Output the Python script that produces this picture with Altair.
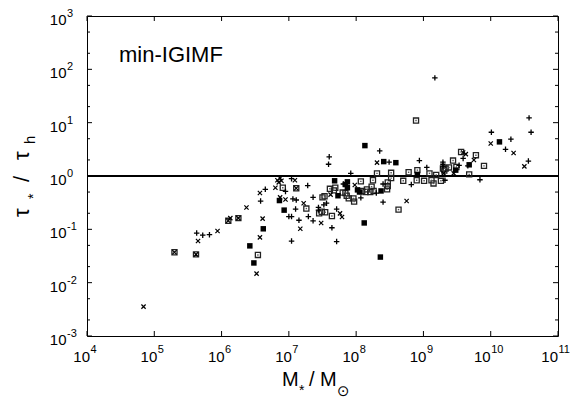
import altair as alt
import pandas as pd

# ---- data (log10 of M*/Msun and log10 of tau*/tau_h) ----
plus_logM = [5.63, 5.72, 5.82, 6.65, 6.58, 7.04, 7.28, 6.95, 7.06, 7.11, 7.36, 7.10, 7.00, 7.04,
             7.15, 7.29, 7.36, 7.04, 7.44, 7.44, 7.52, 7.56, 7.71, 7.64, 7.71, 7.59, 7.60, 7.81,
             7.92, 8.07, 8.30, 8.40, 8.40, 8.35, 8.49, 8.94, 9.05, 8.82, 9.32, 9.17, 9.29, 9.29,
             9.29, 9.53, 9.59, 9.66, 9.84, 10.01, 10.30, 10.22, 10.57, 10.60, 10.56]
plus_logT = [-1.07, -1.11, -1.10, -0.25, -0.47, -0.05, -0.18, -0.29, -0.43, -0.45, -0.40, -0.62, -0.76, -0.76,
             -0.83, -0.76, -0.84, -1.22, -0.59, -0.64, -0.54, -0.51, -0.62, -0.97, -1.23, 0.22, 0.36, -0.15,
             0.05, -0.41, -0.32, -0.15, -0.49, 0.47, 0.26, 0.29, 0.16, -0.16, -0.08, 1.84, 0.26, 0.22,
             0.17, 0.20, 0.33, 0.19, -0.07, 0.82, 0.69, 0.50, 1.09, 0.82, 0.28]

cross_logM = [4.84, 5.30, 5.62, 5.65, 5.94, 6.10, 6.13, 6.25, 6.37, 6.57, 6.61, 6.57, 6.52, 6.80,
              6.83, 6.87, 6.89, 6.85, 7.09, 7.11, 6.87, 6.95, 7.22, 7.17, 7.48, 7.62, 7.76, 7.79,
              7.98, 8.75, 8.31, 9.30, 9.45, 9.59, 9.63, 9.75, 10.00, 10.34, 10.50]
cross_logT = [-2.45, -1.43, -1.47, -1.22, -1.03, -0.84, -0.79, -0.79, -0.59, -0.32, -0.80, -1.15, -1.83, -0.22,
              -0.08, -0.04, -0.09, -0.12, -0.08, -0.23, -0.40, -0.44, -0.51, -0.99, -0.88, -0.35, -0.70, -0.77,
              -0.17, -0.47, 0.25, 0.05, 0.05, 0.44, 0.41, 0.30, 0.61, 0.43, 0.18]

filled_logM = [6.62, 6.42, 6.48, 6.86, 6.93, 7.68, 7.73, 7.87, 7.84, 7.87, 8.02, 8.05, 8.37, 8.12,
               8.36, 8.13, 8.41, 8.59, 8.91, 9.48, 9.68, 10.13]
filled_logT = [-0.99, -1.31, -1.63, -0.46, -0.64, -0.09, -0.37, -0.11, -0.16, -0.22, -0.26, -0.30, -0.28, -0.88,
               -1.52, 0.57, 0.27, 0.25, 0.03, 0.11, 0.21, 0.64]

open_logM = [6.54, 6.91, 7.11, 7.26, 7.45, 7.49, 7.54, 7.50, 7.53, 7.61, 7.64, 7.69, 7.67, 7.80,
             7.84, 7.86, 7.89, 8.09, 8.14, 8.21, 8.16, 8.23, 7.96, 7.97, 8.07, 8.25, 8.47, 8.47,
             8.46, 8.52, 8.63, 8.31, 8.52, 8.78, 8.91, 9.09, 9.19, 8.70, 8.90, 9.01, 9.12, 9.15,
             9.26, 8.89, 9.33, 9.29, 9.31, 9.38, 9.44, 9.49, 9.56, 9.78, 9.68, 9.90, 8.26,
             5.30, 5.62, 6.10, 6.25]
open_logT = [-1.48, -0.22, -0.23, -0.61, -0.70, -0.67, -0.68, -0.40, -0.38, -0.24, -0.75, -0.22, -0.27, -0.31,
             -0.32, -0.37, -0.42, -0.28, -0.30, -0.30, -0.25, -0.20, -0.42, -0.48, -0.10, -0.08, -0.12, -0.19,
             -0.25, -0.04, -0.63, 0.05, 0.06, 0.07, 0.11, 0.05, 0.02, -0.09, -0.08, -0.09, -0.08, -0.14,
             -0.09, 1.04, 0.14, 0.14, 0.10, 0.16, 0.29, 0.17, 0.45, 0.39, 0.03, 0.19, -0.28,
             -1.43, -1.47, -0.84, -0.79]

x_tick_vals = [1e4, 1e5, 1e6, 1e7, 1e8, 1e9, 1e10, 1e11]
x_tick_exps = ["4", "5", "6", "7", "8", "9", "10", "11"]
y_tick_vals = [1e-3, 1e-2, 1e-1, 1e0, 1e1, 1e2, 1e3]
y_tick_exps = ["-3", "-2", "-1", "0", "1", "2", "3"]
y_minor_vals = [m * 10.0 ** e for e in range(-3, 3) for m in (2, 5)]

label_text = "min-IGIMF"
ref_line = [1.0]

# ---- build tables ----
def table(lm, lt):
    return pd.DataFrame({"M": [10 ** a for a in lm], "T": [10 ** b for b in lt]})

df_plus = table(plus_logM, plus_logT)
df_cross = table(cross_logM, cross_logT)
df_filled = table(filled_logM, filled_logT)
df_open = table(open_logM, open_logT)

W, H = 471, 320
FONT = "Liberation Sans"
xs = alt.Scale(type="log", domain=[1e4, 1e11], nice=False)
ys = alt.Scale(type="log", domain=[1e-3, 1e3], nice=False)

def XE(f="M"):
    return alt.X(f"{f}:Q", scale=xs, axis=None)

def YE(f="T"):
    return alt.Y(f"{f}:Q", scale=ys, axis=None)

plus_path = "M-1,0L1,0M0,-1L0,1"
cross_path = "M-1,-1L1,1M-1,1L1,-1"

plus = alt.Chart(df_plus).mark_point(shape=plus_path, filled=False, size=30, color="black",
                                     strokeWidth=1.3, opacity=1).encode(XE(), YE())
cross = alt.Chart(df_cross).mark_point(shape=cross_path, filled=False, size=18, color="black",
                                       strokeWidth=1.2, opacity=1).encode(XE(), YE())
opens = alt.Chart(df_open).mark_point(shape="square", filled=False, size=26, color="#222222",
                                      strokeWidth=1.3, opacity=1).encode(XE(), YE())
open_dots = alt.Chart(df_open).mark_point(shape="square", filled=True, size=2, color="#555555",
                                          opacity=1).encode(XE(), YE())
filled = alt.Chart(df_filled).mark_point(shape="square", filled=True, size=30, color="black",
                                         opacity=1).encode(XE(), YE())

hline = alt.Chart(pd.DataFrame({"T": ref_line})).mark_rule(color="black", strokeWidth=2).encode(YE())

# ticks (inward)
xt = pd.DataFrame({"v": x_tick_vals, "e": x_tick_exps})
yt = pd.DataFrame({"v": y_tick_vals, "e": y_tick_exps})
ym = pd.DataFrame({"v": y_minor_vals})

xtb = alt.Chart(xt).mark_rule(color="black").encode(XE("v"), y=alt.value(H), y2=alt.value(H - 5))
xtt = alt.Chart(xt).mark_rule(color="black").encode(XE("v"), y=alt.value(0), y2=alt.value(5))
ytl = alt.Chart(yt).mark_rule(color="black").encode(YE("v"), x=alt.value(0), x2=alt.value(5))
ytr = alt.Chart(yt).mark_rule(color="black").encode(YE("v"), x=alt.value(W), x2=alt.value(W - 5))
yml = alt.Chart(ym).mark_rule(color="black").encode(YE("v"), x=alt.value(0), x2=alt.value(3))
ymr = alt.Chart(ym).mark_rule(color="black").encode(YE("v"), x=alt.value(W), x2=alt.value(W - 3))

# tick labels  10^n
xt1 = xt[xt["e"].str.len() == 1]
xt2 = xt[xt["e"].str.len() == 2]
xl_base1 = alt.Chart(xt1).mark_text(text="10", align="right", baseline="alphabetic", fontSize=15,
                                    font=FONT, dx=3).encode(XE("v"), y=alt.value(H + 26))
xl_exp1 = alt.Chart(xt1).mark_text(align="left", baseline="alphabetic", fontSize=11,
                                   font=FONT, dx=3.5).encode(XE("v"), y=alt.value(H + 17), text="e:N")
xl_base2 = alt.Chart(xt2).mark_text(text="10", align="right", baseline="alphabetic", fontSize=15,
                                    font=FONT, dx=0).encode(XE("v"), y=alt.value(H + 26))
xl_exp2 = alt.Chart(xt2).mark_text(align="left", baseline="alphabetic", fontSize=11,
                                   font=FONT, dx=0.5).encode(XE("v"), y=alt.value(H + 17), text="e:N")

yl_base = alt.Chart(yt).mark_text(text="10", align="right", baseline="alphabetic", fontSize=15,
                                  font=FONT, dy=9).encode(YE("v"), x=alt.value(-20.5))
yl_exp = alt.Chart(yt).mark_text(align="left", baseline="alphabetic", fontSize=11,
                                 font=FONT, dy=1).encode(YE("v"), x=alt.value(-20), text="e:N")

one = pd.DataFrame({"a": [0]})

def piece(txt, px, py, size, angle=0, font=FONT):
    kw = dict(text=txt, align="left", baseline="alphabetic", fontSize=size, font=font, color="black")
    if angle:
        kw["angle"] = angle
    return alt.Chart(one).mark_text(**kw).encode(x=alt.value(px - 87), y=alt.value(py - 16))

# x title: M* / M(sun)
xtitle = [
    piece("M", 282, 386, 20),
    piece("*", 299, 395, 14),
    piece("/", 309, 386, 20),
    piece("M", 320, 386, 20),
    piece("\u2299", 337, 396, 15, font="DejaVu Sans"),
]
# y title: tau* / tau_h (rotated)
ytitle = [
    piece("\u03c4", 29, 217, 22, angle=270),
    piece("*", 38, 199, 14, angle=270),
    piece("/", 29, 182, 22, angle=270),
    piece("\u03c4", 29, 160, 22, angle=270),
    piece("h", 35, 144, 15, angle=270),
]

label = piece(label_text, 119, 62, 22)

chart = alt.layer(
    hline, opens, open_dots, filled, cross, plus,
    xtb, xtt, ytl, ytr, yml, ymr,
    xl_base1, xl_exp1, xl_base2, xl_exp2, yl_base, yl_exp,
    *xtitle, *ytitle, label,
).properties(
    width=W, height=H,
    padding={"left": 79, "top": 8, "right": 20, "bottom": 66},
    autosize="none",
    background="white",
).configure_view(stroke="black", strokeWidth=1)

chart.save("out.html", embed_options={"renderer": "svg", "actions": False})
